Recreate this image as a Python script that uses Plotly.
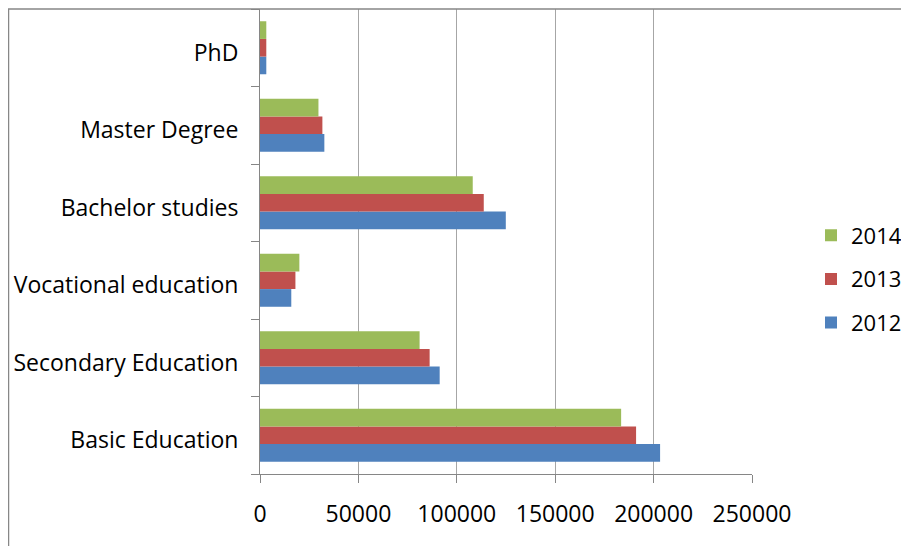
import plotly.graph_objects as go

categories = ["Basic Education", "Secondary Education", "Vocational education",
              "Bachelor studies", "Master Degree", "PhD"]
years = ["2012", "2013", "2014"]
values_2012 = [203300, 91300, 15900, 124900, 32700, 3200]
values_2013 = [191100, 86200, 18000, 113700, 31700, 3200]
values_2014 = [183500, 81100, 20000, 108100, 29700, 3200]
x_ticks = [0, 50000, 100000, 150000, 200000, 250000]

series = [values_2012, values_2013, values_2014]
colors = ["#4F81BD", "#C0504D", "#9BBB59"]
legend_ranks = [3, 2, 1]

FONT = "'Open Sans', Lato, sans-serif"

fig = go.Figure()
for name, vals, col, rank in zip(years, series, colors, legend_ranks):
    fig.add_trace(go.Bar(
        y=categories, x=vals, name=name, orientation="h",
        marker=dict(color=col, line=dict(width=0)),
        legendgroup=name, legendrank=rank,
    ))

# page body has an 8px default margin, so the figure is sized/placed to compensate
W, H = 901, 538
ml, mt = 252, 1
pw, ph = 492, 465
mr, mb = W - ml - pw, H - mt - ph

fig.update_layout(
    width=W, height=H,
    margin=dict(l=ml, r=mr, t=mt, b=mb, pad=0, autoexpand=False),
    paper_bgcolor="white", plot_bgcolor="white",
    barmode="group", bargap=0.316, bargroupgap=0,
    font=dict(family=FONT, size=23, color="#000000"),
    showlegend=True,
    legend=dict(
        traceorder="grouped", tracegroupgap=12,
        x=(803 - ml) / pw, xanchor="left",
        y=(466 - 271) / ph, yanchor="middle",
        font=dict(family=FONT, size=22, color="#000000"),
        bgcolor="rgba(0,0,0,0)",
    ),
    xaxis=dict(
        range=[0, 250000], tickvals=x_ticks, tickformat="d",
        showgrid=True, gridcolor="#A6A6A6", gridwidth=1,
        zeroline=False,
        showline=True, linecolor="#868686", linewidth=1,
        ticks="outside", ticklen=8, tickcolor="#868686",
        ticklabelstandoff=11,
        automargin=False,
        fixedrange=True,
    ),
    yaxis=dict(
        type="category", categoryorder="array", categoryarray=categories,
        showgrid=False, zeroline=False,
        showline=True, linecolor="#868686", linewidth=1,
        ticks="outside", ticklen=8, tickcolor="#868686",
        tickson="boundaries",
        ticklabelstandoff=16, ticklabelshift=5,
        automargin=False,
        fixedrange=True,
    ),
    shapes=[
        dict(type="rect", xref="paper", yref="paper",
             x0=(0.5 - ml) / pw, x1=1.6, y0=-0.4, y1=1.0,
             line=dict(color="#878787", width=1.5), fillcolor="rgba(0,0,0,0)",
             layer="above"),
    ],
)

fig.write_html("out.html")
